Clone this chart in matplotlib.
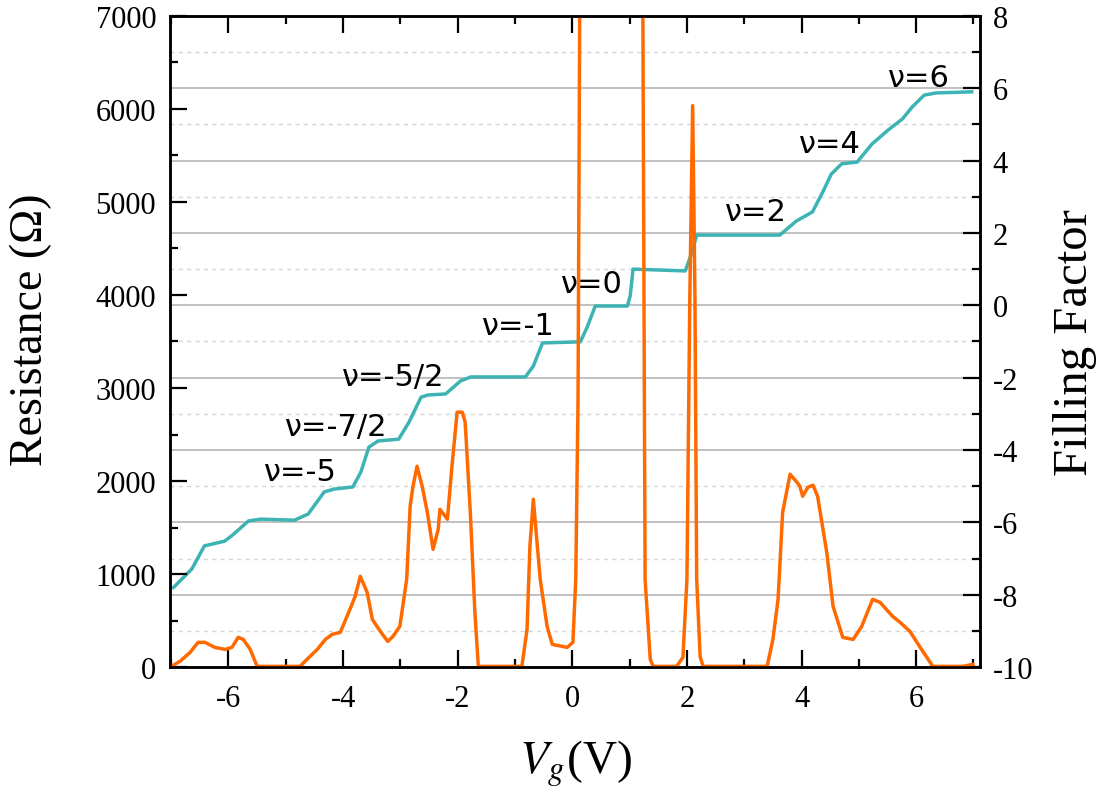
import numpy as np
import matplotlib
matplotlib.use('Agg')
import matplotlib.pyplot as plt
from matplotlib.ticker import MultipleLocator

plt.rcParams['font.family'] = 'serif'
plt.rcParams['font.serif'] = ['Liberation Serif', 'DejaVu Serif']
plt.rcParams['mathtext.fontset'] = 'stix'
plt.rcParams['axes.unicode_minus'] = False

# Longitudinal resistance vs gate voltage
vg_r = [-6.99, -6.84, -6.67, -6.53, -6.41, -6.24, -6.06, -5.94, -5.83, -5.74, -5.62, -5.50,
        -4.75, -4.63, -4.45, -4.31, -4.19, -4.05, -3.88, -3.79, -3.70, -3.58, -3.49, -3.35,
        -3.22, -3.13, -3.01, -2.89, -2.83, -2.78, -2.71, -2.62, -2.53, -2.43, -2.34, -2.31,
        -2.18, -2.10, -2.01, -1.92, -1.87, -1.78, -1.70, -1.64, -0.88, -0.79, -0.74, -0.68,
        -0.61, -0.56, -0.44, -0.35, -0.09, 0.01, 0.06, 0.10, 0.13, 0.20, 0.70, 1.18, 1.23,
        1.27, 1.36, 1.41, 1.82, 1.93, 2.00, 2.05, 2.10, 2.14, 2.17, 2.23, 2.28, 3.40, 3.50,
        3.59, 3.67, 3.80, 3.92, 3.97, 4.02, 4.11, 4.20, 4.28, 4.44, 4.55, 4.72, 4.90, 5.05,
        5.24, 5.37, 5.59, 5.72, 5.89, 6.06, 6.29, 6.82, 6.99]
resistance = [10, 65, 158, 266, 266, 212, 190, 212, 320, 297, 190, 8,
              8, 83, 190, 297, 352, 373, 621, 760, 976, 804, 513, 384,
              276, 330, 438, 943, 1729, 1944, 2159, 1944, 1664, 1266, 1481, 1696,
              1589, 2159, 2740, 2740, 2633, 1664, 588, 8, 8, 405, 1298, 1804,
              1298, 943, 438, 244, 212, 266, 943, 2880, 7200, 9500, 12000, 9500, 7200,
              943, 83, 8, 8, 104, 943, 3955, 6035, 3955, 943, 115, 8, 8, 297,
              728, 1664, 2073, 1987, 1944, 1836, 1933, 1955, 1836, 1234, 653, 319, 297, 438,
              728, 696, 545, 481, 384, 222, 8, 8, 30]

# Filling factor vs gate voltage
vg_nu = [-6.96, -6.64, -6.42, -6.07, -5.95, -5.65, -5.43, -4.85, -4.61, -4.33, -4.16, -3.83,
         -3.69, -3.55, -3.39, -3.03, -2.85, -2.64, -2.52, -2.21, -1.95, -1.77, -0.82, -0.68,
         -0.52, 0.14, 0.26, 0.40, 0.96, 1.01, 1.06, 1.97, 2.09, 2.17, 3.62, 3.91, 4.19, 4.37,
         4.52, 4.70, 4.97, 5.23, 5.53, 5.76, 5.93, 6.14, 6.35, 6.97]
filling = [-7.80, -7.29, -6.65, -6.52, -6.38, -5.96, -5.91, -5.94, -5.77, -5.16, -5.08, -5.02,
           -4.61, -3.92, -3.75, -3.70, -3.23, -2.54, -2.48, -2.45, -2.09, -1.98, -1.98, -1.68,
           -1.04, -1.01, -0.60, -0.02, -0.02, 0.26, 1.00, 0.95, 1.47, 1.94, 1.94, 2.33, 2.58, 3.13,
           3.63, 3.91, 3.96, 4.46, 4.87, 5.15, 5.48, 5.81, 5.87, 5.90]

nu_labels = ['ν=6', 'ν=4', 'ν=2', 'ν=0', 'ν=-1', 'ν=-5/2', 'ν=-7/2', 'ν=-5']
nu_label_x = [6.05, 4.49, 3.20, 0.35, -0.94, -3.13, -4.12, -4.75]
nu_label_y = [6.31, 4.46, 2.58, 0.59, -0.57, -1.98, -3.34, -4.58]

fig = plt.figure(figsize=(11.04, 8.03), dpi=100)
ax = fig.add_axes([0.154, 0.168, 0.734, 0.811])
ax2 = ax.twinx()

ax.plot(vg_r, resistance, color='#ff6a00', lw=2.5)
ax2.plot(vg_nu, filling, color='#3db3b3', lw=2.5)

for s, x, y in zip(nu_labels, nu_label_x, nu_label_y):
    ax2.text(x, y, s, ha='center', va='center', fontsize=22, family='DejaVu Sans')

ax.set_xlim(-7.02, 7.12)
ax.set_ylim(0, 7000)
ax2.set_ylim(-10, 8)

ax.xaxis.set_major_locator(MultipleLocator(2))
ax.xaxis.set_minor_locator(MultipleLocator(1))
ax.yaxis.set_major_locator(MultipleLocator(1000))
ax.yaxis.set_minor_locator(MultipleLocator(500))
ax2.yaxis.set_major_locator(MultipleLocator(2))
ax2.yaxis.set_minor_locator(MultipleLocator(1))

# horizontal guides follow the filling-factor scale
ax2.set_axisbelow(True)
ax2.grid(which='major', axis='y', color='#b5b5b5', lw=1.2, ls='-')
ax2.grid(which='minor', axis='y', color='#d5d5d5', lw=1.0, ls=(0, (3, 3)))

ax.set_zorder(ax2.get_zorder() + 1)
ax.patch.set_visible(False)

ax.tick_params(axis='x', which='both', direction='in', top=True, pad=12, labelsize=22)
ax.tick_params(axis='y', which='both', direction='in', right=False, pad=10, labelsize=22)
ax2.tick_params(axis='y', which='both', direction='in', pad=9, labelsize=22)
for a in (ax, ax2):
    a.tick_params(which='major', length=12, width=1.6)
    a.tick_params(which='minor', length=6, width=1.6)
    for sp in a.spines.values():
        sp.set_linewidth(1.8)

ax.set_xlabel(r'$V_g$(V)', fontsize=34)
ax.xaxis.set_label_coords(0.5, -0.108)
ax.set_ylabel('Resistance (Ω)', fontsize=33)
ax.yaxis.set_label_coords(-0.146, 0.52)
ax2.set_ylabel('Filling Factor', fontsize=35)
ax2.yaxis.set_label_coords(1.09, 0.5)

fig.savefig('out.png', dpi=100)
